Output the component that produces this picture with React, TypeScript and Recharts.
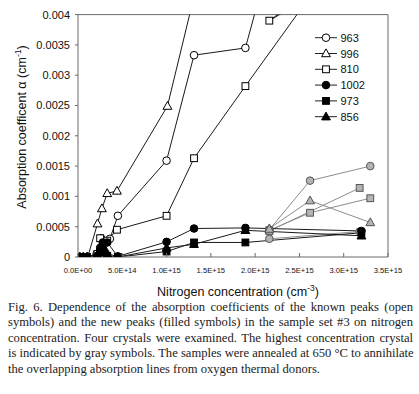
import React from 'react';
import {LineChart, Line, XAxis, YAxis, ReferenceLine, Label} from 'recharts';

type Pt = [number, number | null];

// nitrogen concentration (cm-3), absorption coefficient (cm-1)
// crystals 1-3 (black symbols)
const peak963: Pt[] = [[0.2e14, 0], [0.6e14, 0], [1.0e14, 0], [2.1e14, 0.00005], [2.6e14, 0.00031], [3.6e14, 0.0003], [4.5e14, 0.00068], [1.0e15, 0.00159], [1.31e15, 0.00333], [1.89e15, 0.00345], [2.16e15, 0.0049]];
const peak996: Pt[] = [[0.2e14, 0], [0.6e14, 0], [1.1e14, 0], [2.2e14, 0.00055], [2.7e14, 0.0008], [3.3e14, 0.00105], [4.4e14, 0.00109], [1.01e15, 0.00249], [1.31e15, 0.0043]];
const peak810: Pt[] = [[0.2e14, 0], [0.6e14, 0], [1.0e14, 0], [2.2e14, 0.00005], [2.5e14, 0.00031], [3.3e14, 0.00027], [4.4e14, 0.00045], [1.0e15, 0.00068], [1.31e15, 0.00163], [1.89e15, 0.00282], [2.62e15, 0.0043], [2.16e15, 0.0039], [3.2e15, 0.005]];
const peak1002: Pt[] = [[0.2e14, 0], [0.6e14, 0], [1.0e14, 0], [2.2e14, 0.00002], [2.5e14, 0.00015], [2.8e14, 0.00024], [3.3e14, 0.00024], [4.5e14, 0.00001], [1.0e15, 0.00025], [1.31e15, 0.00047], [1.89e15, 0.00048], [3.2e15, 0.00043]];
const peak973: Pt[] = [[0.2e14, 0], [0.6e14, 0], [1.0e14, 0], [2.2e14, 0], [2.5e14, 0.00008], [2.8e14, 0.00012], [3.3e14, 0.00002], [4.5e14, 0], [1.0e15, 0.00009], [1.31e15, 0.00024], [1.89e15, 0.00024], [3.2e15, 0.0004]];
const peak856: Pt[] = [[0.2e14, 0], [0.6e14, 0], [1.0e14, 0], [2.2e14, 0], [2.5e14, 0.00012], [2.8e14, 0.00018], [3.3e14, 0.00006], [4.5e14, 0], [1.0e15, 0.00015], [1.31e15, 0.00021], [1.89e15, 0.00044], [3.2e15, 0.00035]];

// highest concentration crystal (gray symbols)
const peak963Gray: Pt[] = [[2.16e15, 0.00045], [2.62e15, 0.00126], [3.3e15, 0.0015]];
const peak996Gray: Pt[] = [[2.16e15, 0.00047], [2.62e15, 0.00093], [3.3e15, 0.00057]];
const peak810Gray: Pt[] = [[2.16e15, 0.00044], [2.62e15, 0.00073], [3.3e15, 0.00097]];
const peak1002Gray: Pt[] = [[2.16e15, 0.0003], [3.18e15, 0.00042]];
const peak973Gray: Pt[] = [[2.16e15, 0.00043], [3.18e15, 0.00114]];
const peak856Gray: Pt[] = [[2.16e15, 0.00046]];

const xTicks = [0, 5e14, 1e15, 1.5e15, 2e15, 2.5e15, 3e15, 3.5e15];
const xTickLabels = ['0.0E+00', '5.0E+14', '1.0E+15', '1.5E+15', '2.0E+15', '2.5E+15', '3.0E+15', '3.5E+15'];
const yTicks = [0, 0.0005, 0.001, 0.0015, 0.002, 0.0025, 0.003, 0.0035, 0.004];
const yTickLabels = ['0', '0.0005', '0.001', '0.0015', '0.002', '0.0025', '0.003', '0.0035', '0.004'];

const captionLines = [
  'Fig. 6. Dependence of the absorption coefficients of the known peaks (open',
  'symbols) and the new peaks (filled symbols) in the sample set #3 on nitrogen',
  'concentration. Four crystals were examined. The highest concentration crystal',
  'is indicated by gray symbols. The samples were annealed at 650 °C to annihilate',
  'the overlapping absorption lines from oxygen thermal donors.',
];

type Shape = 'circle' | 'square' | 'triangle';

const peaks: {name: string, shape: Shape, open: boolean, main: Pt[], gray: Pt[]}[] = [
  {name: '963', shape: 'circle', open: true, main: peak963, gray: peak963Gray},
  {name: '996', shape: 'triangle', open: true, main: peak996, gray: peak996Gray},
  {name: '810', shape: 'square', open: true, main: peak810, gray: peak810Gray},
  {name: '1002', shape: 'circle', open: false, main: peak1002, gray: peak1002Gray},
  {name: '973', shape: 'square', open: false, main: peak973, gray: peak973Gray},
  {name: '856', shape: 'triangle', open: false, main: peak856, gray: peak856Gray},
];

const FONT = '"Liberation Sans", Arial, sans-serif';
const AXIS = '#6a6a6a';
const GRAY_FILL = '#b4b4b4';
const GRAY_LINE = '#8c8c8c';

const toRows = (pts: Pt[]) => pts.map(([n, a]) => ({n, a}));

function Marker({shape, cx, cy, fill, stroke}: {shape: Shape, cx: number, cy: number, fill: string, stroke: string}) {
  if (shape === 'circle') {
    return <circle cx={cx} cy={cy} r={3.8} fill={fill} stroke={stroke} strokeWidth={1}/>
  }
  if (shape === 'square') {
    return <rect x={cx - 3.4} y={cy - 3.4} width={6.8} height={6.8} fill={fill} stroke={stroke} strokeWidth={1}/>
  }
  return <polygon points={`${cx},${cy - 4.6} ${cx - 4.4},${cy + 3.2} ${cx + 4.4},${cy + 3.2}`} fill={fill} stroke={stroke} strokeWidth={1}/>
}

function dotFor(shape: Shape, fill: string, stroke: string, tag: string) {
  return (props: any) => {
    const {cx, cy, index} = props
    if (cx == null || cy == null || Number.isNaN(cy)) return <g key={`${tag}-${index}`}/>
    return <g key={`${tag}-${index}`}><Marker shape={shape} cx={cx} cy={cy} fill={fill} stroke={stroke}/></g>
  }
}

function XTick(props: any) {
  const {x, y, payload} = props
  const label = xTickLabels[xTicks.indexOf(payload?.value)] ?? ''
  return (
    <g>
      <line x1={x} x2={x} y1={y} y2={y - 4} stroke={AXIS}/>
      <text x={x} y={y + 16} textAnchor="middle" fontSize={7.6} fontFamily={FONT} fill="#111">{label}</text>
    </g>
  )
}

function LegendBox() {
  return (
    <svg width={70} height={100} style={{position: 'absolute', left: 312, top: 30}}>
      {peaks.map((p, i) => {
        const y = 7.7 + i * 15.8
        return (
          <g key={p.name}>
            <line x1={3} x2={25} y1={y} y2={y} stroke="#222"/>
            <Marker shape={p.shape} cx={14} cy={y} fill={p.open ? '#fff' : '#000'} stroke="#000"/>
            <text x={28.5} y={y + 4} fontSize={11} fontFamily={FONT} fill="#111">{p.name}</text>
          </g>
        )
      })}
    </svg>
  )
}

export default function App() {
  return (
    <div style={{position: 'absolute', left: 0, top: 0, width: 419, height: 394, background: '#fff'}}>
      <LineChart width={419} height={315} margin={{top: 14.6, right: 31, bottom: 0, left: 0}}>
        <XAxis type="number" dataKey="n" domain={[0, 3.5e15]} ticks={xTicks} allowDataOverflow interval={0}
               height={58} tickSize={0} tickMargin={0} tick={<XTick/>} axisLine={{stroke: AXIS}} tickLine={false}>
          <Label content={() => (
            <text x={238} y={296} textAnchor="middle" fontSize={12.5} fontFamily={FONT} fill="#111">
              Nitrogen concentration (cm<tspan dy={-5} fontSize={8.5}>-3</tspan><tspan dy={5}>)</tspan>
            </text>
          )}/>
        </XAxis>
        <YAxis type="number" domain={[0, 0.004]} ticks={yTicks} allowDataOverflow width={78}
               tickSize={3} tickMargin={5} interval={0}
               tickFormatter={(v: number) => yTickLabels[yTicks.indexOf(v)] ?? ''}
               tick={{fontSize: 11, fontFamily: FONT, fill: '#111'}}
               axisLine={{stroke: AXIS}} tickLine={{stroke: AXIS}}>
          <Label content={() => (
            <text transform="translate(26,127) rotate(-90)" textAnchor="middle" fontSize={12.5} fontFamily={FONT} fill="#111">
              Absorption coefficent α (cm<tspan dy={-5} fontSize={8.5}>-1</tspan><tspan dy={5}>)</tspan>
            </text>
          )}/>
        </YAxis>
        <ReferenceLine y={0.004} stroke={AXIS}/>
        <ReferenceLine x={3.5e15} stroke={AXIS}/>
        {peaks.map(p => (
          <Line key={`g${p.name}`} data={toRows(p.gray)} dataKey="a" type="linear" stroke={GRAY_LINE} strokeWidth={1}
                dot={dotFor(p.shape, GRAY_FILL, '#555', `g${p.name}`)} activeDot={false} isAnimationActive={false}
                legendType="none"/>
        ))}
        {peaks.map(p => (
          <Line key={p.name} name={p.name} data={toRows(p.main)} dataKey="a" type="linear" stroke="#1a1a1a" strokeWidth={1}
                dot={dotFor(p.shape, p.open ? '#fff' : '#000', '#000', p.name)} activeDot={false} isAnimationActive={false}/>
        ))}
      </LineChart>
      <LegendBox/>
      <div style={{position: 'absolute', left: 8, top: 300, width: 405, fontFamily: '"Liberation Serif", "Times New Roman", serif', fontSize: 12.6, lineHeight: '15.4px', color: '#222'}}>
        {captionLines.map((line, i) => (
          <div key={i} style={{textAlign: 'justify', textAlignLast: i < captionLines.length - 1 ? 'justify' : 'left', whiteSpace: 'nowrap'}}>{line}</div>
        ))}
      </div>
    </div>
  )
}
